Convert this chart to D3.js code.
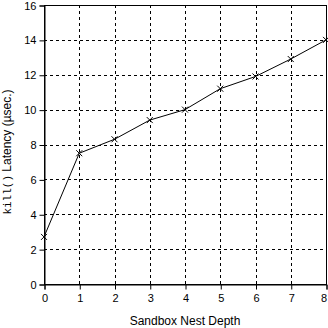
<!DOCTYPE html>
<html>
<head>
<meta charset="utf-8">
<script src="https://cdn.jsdelivr.net/npm/d3@7"></script>
<style>
  body { margin: 0; background: #fff; }
  svg text { font-family: "Liberation Sans", Arial, sans-serif; font-size: 11px; fill: #000; }
  .grid line { stroke: #000; stroke-dasharray: 3,3; stroke-width: 1; }
</style>
</head>
<body>
<div id="chart"></div>
<script>
// Sandbox nest depth vs kill() latency
const depths = [0, 1, 2, 3, 4, 5, 6, 7, 8];
const latency = [2.7, 7.5, 8.3, 9.4, 10.0, 11.2, 11.9, 12.9, 14.0];
const xTicks = [0, 1, 2, 3, 4, 5, 6, 7, 8];
const yTicks = [0, 2, 4, 6, 8, 10, 12, 14, 16];

const width = 328, height = 328;
const margin = { top: 5, right: 2, bottom: 44, left: 44 };

const svg = d3.select('#chart')
    .append('svg')
    .attr('width', width)
    .attr('height', height);

const x = d3.scaleLinear().domain([0, 8]).range([margin.left, width - margin.right]);
const y = d3.scaleLinear().domain([0, 16]).range([height - margin.bottom, margin.top]);

// dashed grid
const grid = svg.append('g').attr('class', 'grid');
grid.selectAll('line.v')
    .data(xTicks.slice(1, -1))
    .join('line')
    .attr('x1', d => Math.round(x(d)) + 0.5)
    .attr('x2', d => Math.round(x(d)) + 0.5)
    .attr('y1', y(0))
    .attr('y2', y(16));
grid.selectAll('line.h')
    .data(yTicks.slice(1, -1))
    .join('line')
    .attr('y1', d => Math.round(y(d)) + 0.5)
    .attr('y2', d => Math.round(y(d)) + 0.5)
    .attr('x1', x(0))
    .attr('x2', x(8));

// frame
svg.append('rect')
    .attr('x', Math.round(x(0)) + 0.5)
    .attr('y', Math.round(y(16)) + 0.5)
    .attr('width', Math.round(x(8)) - Math.round(x(0)))
    .attr('height', Math.round(y(0)) - Math.round(y(16)))
    .attr('fill', 'none')
    .attr('stroke', '#000');

// axes
const xAxis = svg.append('g')
    .attr('transform', `translate(0.5,${Math.round(y(0)) + 0.5})`)
    .call(d3.axisBottom(x).tickValues(xTicks).tickFormat(d3.format('d')).tickSize(5).tickPadding(5));
const yAxis = svg.append('g')
    .attr('transform', `translate(${Math.round(x(0)) + 0.5},0.5)`)
    .call(d3.axisLeft(y).tickValues(yTicks).tickFormat(d3.format('d')).tickSize(5).tickPadding(3));
[xAxis, yAxis].forEach(a => {
    a.select('.domain').attr('stroke', '#000');
    a.selectAll('.tick line').attr('stroke', '#000');
    a.selectAll('text').attr('font-family', null).attr('font-size', null);
});
// keep the last x label inside the window
xAxis.selectAll('.tick text').filter(d => d === 8).attr('dx', -3);

// line
svg.append('path')
    .datum(depths)
    .attr('fill', 'none')
    .attr('stroke', '#000')
    .attr('stroke-width', 1)
    .attr('d', d3.line().x(d => x(d)).y((d, i) => y(latency[i])));

// x markers
const s = 3;
svg.append('g')
    .selectAll('path')
    .data(depths)
    .join('path')
    .attr('fill', 'none')
    .attr('stroke', '#000')
    .attr('d', (d, i) => {
        const cx = x(d), cy = y(latency[i]);
        return `M${cx - s},${cy - s}L${cx + s},${cy + s}M${cx - s},${cy + s}L${cx + s},${cy - s}`;
    });

// labels
svg.append('text')
    .attr('x', (x(0) + x(8)) / 2)
    .attr('y', 325)
    .attr('text-anchor', 'middle')
    .style('font-size', '12px')
    .text('Sandbox Nest Depth');

const yl = svg.append('text')
    .attr('transform', `translate(11,${152}) rotate(-90)`)
    .attr('text-anchor', 'middle')
    .style('font-size', '12px');
yl.append('tspan').style('font-family', '"Liberation Mono", "DejaVu Sans Mono", monospace').style('font-size', '11px').text('kill()');
yl.append('tspan').text(' Latency (µsec.)');
</script>
</body>
</html>
